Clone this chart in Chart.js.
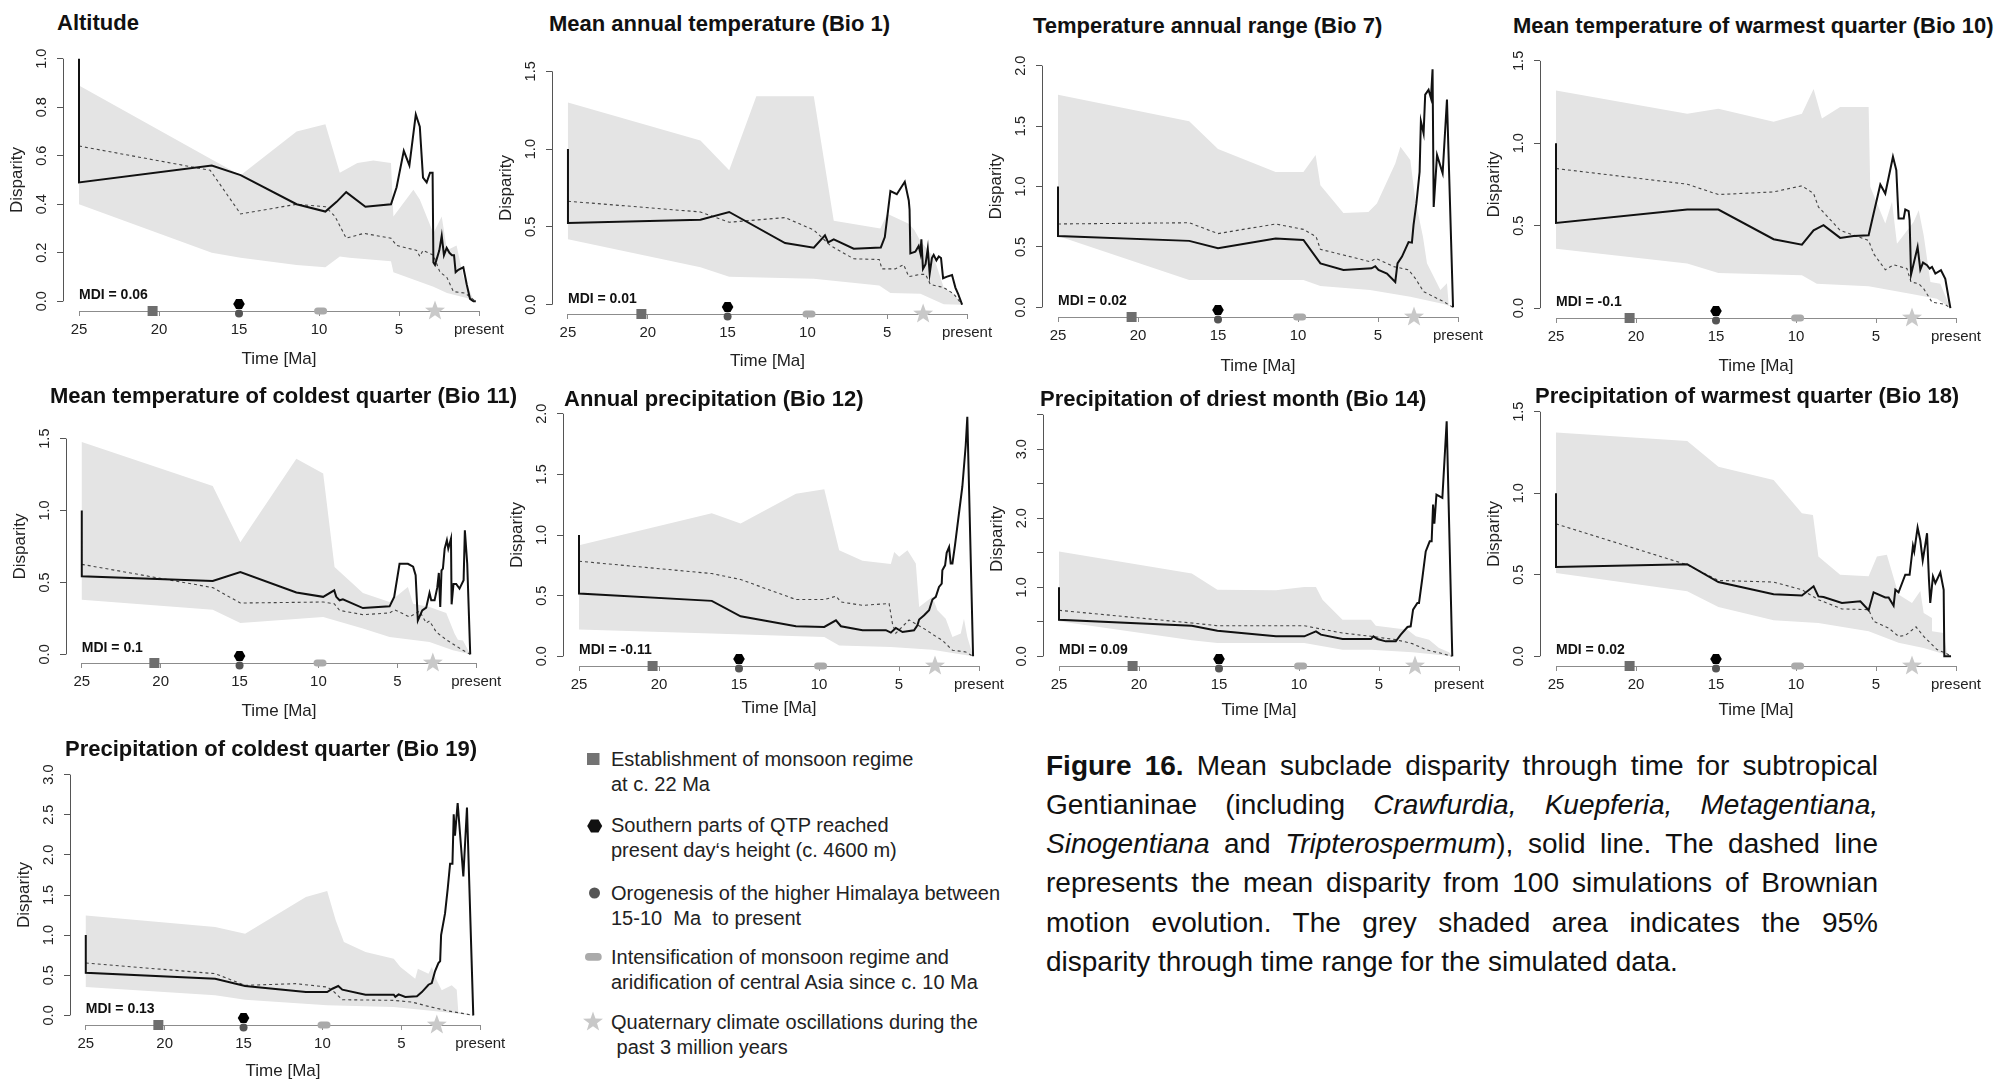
<!DOCTYPE html>
<html><head><meta charset="utf-8">
<script src="https://cdn.jsdelivr.net/npm/chart.js@4.4.1/dist/chart.umd.min.js"></script>
<style>
html,body{margin:0;padding:0;background:#fff;}
body{width:1995px;height:1083px;position:relative;overflow:hidden;font-family:'Liberation Sans',Arial,sans-serif;color:#111;}
.ptitle{position:absolute;font-weight:bold;font-size:22px;line-height:22px;white-space:nowrap;color:#111;z-index:2;}
canvas{position:absolute;z-index:1;}
.leg{position:absolute;left:611px;font-size:20px;line-height:25px;color:#222;white-space:nowrap;}
.cap{position:absolute;left:1046px;top:745.6px;width:832px;font-size:28px;line-height:39.3px;color:#111;}
.cap div{text-align:justify;text-align-last:justify;}
.cap div.last{text-align:left;text-align-last:left;}
</style></head><body>

<div class="ptitle" style="left:57px;top:12.1px">Altitude</div>
<div class="ptitle" style="left:549px;top:13px">Mean annual temperature (Bio 1)</div>
<div class="ptitle" style="left:1033px;top:14.6px">Temperature annual range (Bio 7)</div>
<div class="ptitle" style="left:1513px;top:14.6px">Mean temperature of warmest quarter (Bio 10)</div>
<div class="ptitle" style="left:50px;top:384.7px">Mean temperature of coldest quarter (Bio 11)</div>
<div class="ptitle" style="left:564px;top:388px">Annual precipitation (Bio 12)</div>
<div class="ptitle" style="left:1040px;top:388px">Precipitation of driest month (Bio 14)</div>
<div class="ptitle" style="left:1535px;top:384.7px">Precipitation of warmest quarter (Bio 18)</div>
<div class="ptitle" style="left:65px;top:738px">Precipitation of coldest quarter (Bio 19)</div>

<svg style="position:absolute;left:580px;top:745px" width="30" height="300">
  <rect x="7" y="8" width="12.5" height="12" fill="#737373"/>
  <polygon points="22.2,81 18.45,87.5 10.95,87.5 7.2,81 10.95,74.5 18.45,74.5" fill="#111"/>
  <circle cx="14.5" cy="148" r="5.5" fill="#555"/>
  <rect x="5" y="208" width="16.7" height="7.7" rx="3.8" fill="#aaa"/>
  <polygon points="13,266.5 15.47,273.6 22.99,273.76 17,278.3 19.17,285.49 13,281.2 6.83,285.49 9,278.3 3.01,273.76 10.53,273.6" fill="#c8c8c8"/>
</svg>
<div class="leg" style="top:747.3px">Establishment of monsoon regime<br>at c. 22 Ma</div>
<div class="leg" style="top:813.3px">Southern parts of QTP reached<br>present day‘s height (c. 4600 m)</div>
<div class="leg" style="top:880.6px">Orogenesis of the higher Himalaya between<br>15-10 &nbsp;Ma &nbsp;to present</div>
<div class="leg" style="top:944.6px">Intensification of monsoon regime and<br>aridification of central Asia since c. 10 Ma</div>
<div class="leg" style="top:1009.9px">Quaternary climate oscillations during the<br>&nbsp;past 3 million years</div>

<div class="cap">
<div><b>Figure 16.</b> Mean subclade disparity through time for subtropical</div>
<div>Gentianinae (including <i>Crawfurdia,</i> <i>Kuepferia,</i> <i>Metagentiana,</i></div>
<div><i>Sinogentiana</i> and <i>Tripterospermum</i>), solid line. The dashed line</div>
<div>represents the mean disparity from 100 simulations of Brownian</div>
<div>motion evolution. The grey shaded area indicates the 95%</div>
<div class="last">disparity through time range for the simulated data.</div>
</div>

<script>
// ---------- DATA ----------
const xTicks = [25, 20, 15, 10, 5, 0];
const eventAges = [20.4, 15, 15, 9.9, 2.75]; // monsoon, QTP, Himalaya, intensification, Quaternary
const mdiValues = ['0.06', '0.01', '0.02', '-0.1', '0.1', '-0.11', '0.09', '0.02', '0.13'];
const yTickSets = [
  [0, 0.2, 0.4, 0.6, 0.8, 1.0],
  [0, 0.5, 1.0, 1.5],
  [0, 0.5, 1.0, 1.5, 2.0],
  [0, 0.5, 1.0, 1.5],
  [0, 0.5, 1.0, 1.5],
  [0, 0.5, 1.0, 1.5, 2.0],
  [0, 0.5, 1.0, 1.5, 2.0, 2.5, 3.0, 3.5],
  [0, 0.5, 1.0, 1.5],
  [0, 0.5, 1.0, 1.5, 2.0, 2.5, 3.0]
];
const yLabelEvery = [0.2, 0.5, 0.5, 0.5, 0.5, 0.5, 1.0, 0.5, 0.5];

// Altitude
const altitudeObserved = [[25,1.0],[25,0.49],[16.7,0.56],[14.9,0.52],[11.4,0.40],[9.6,0.37],[8.9,0.41],[8.3,0.45],[7.1,0.39],[5.5,0.40],[5.15,0.47],[4.7,0.62],[4.35,0.56],[3.95,0.77],[3.7,0.72],[3.5,0.51],[3.27,0.49],[3.06,0.53],[2.9,0.53],[2.85,0.16],[2.75,0.15],[2.48,0.21],[2.33,0.27],[2.19,0.19],[2.02,0.22],[1.85,0.20],[1.69,0.19],[1.56,0.19],[1.46,0.12],[1.29,0.13],[0.98,0.14],[0.77,0.07],[0.56,0.01],[0.35,0],[0.2,0]];
const altitudeMean = [[25,0.64],[16.8,0.54],[14.9,0.36],[11.4,0.40],[9.6,0.39],[9.0,0.35],[8.3,0.26],[7.2,0.28],[5.5,0.26],[5.15,0.23],[3.9,0.21],[3.7,0.185],[3.5,0.21],[2.85,0.19],[2.44,0.12],[2.02,0.10],[1.6,0.04],[0.88,0.034],[0.35,0.007],[0.15,0]];
const altitudeUpper = [[25,0.89],[16.7,0.585],[14.9,0.52],[11.4,0.70],[9.6,0.73],[8.7,0.53],[7.6,0.57],[6.6,0.58],[5.5,0.57],[5.35,0.35],[4.1,0.46],[3.7,0.42],[2.85,0.28],[2.33,0.35],[2.0,0.21],[1.4,0.23],[0.98,0.10],[0.35,0.007],[0.15,0]];
const altitudeLower = [[25,0.40],[16.7,0.20],[14.9,0.18],[11.4,0.15],[9.6,0.14],[8.7,0.185],[8.1,0.18],[5.5,0.165],[5.35,0.12],[2.85,0.06],[2.0,0.034],[0.77,0.014],[0.15,0]];

// Bio 1
const bio1Observed = [[25,1.0],[25,0.525],[16.7,0.546],[14.9,0.596],[11.4,0.396],[9.6,0.366],[8.9,0.446],[8.7,0.40],[8.35,0.42],[7.1,0.36],[5.4,0.368],[5.15,0.435],[4.8,0.73],[4.4,0.71],[3.9,0.79],[3.65,0.67],[3.6,0.61],[3.55,0.33],[3.24,0.34],[3.03,0.377],[2.92,0.33],[2.86,0.42],[2.76,0.23],[2.6,0.26],[2.46,0.36],[2.34,0.2],[2.2,0.30],[2.09,0.32],[1.92,0.285],[1.77,0.31],[1.63,0.30],[1.5,0.17],[1.25,0.18],[0.94,0.19],[0.73,0.11],[0.56,0.07],[0.31,0]];
const bio1Mean = [[25,0.665],[16.7,0.596],[14.9,0.53],[11.4,0.56],[9.6,0.48],[8.56,0.38],[7.1,0.295],[5.5,0.29],[5.33,0.23],[4.5,0.23],[3.97,0.257],[3.65,0.18],[2.92,0.195],[2.6,0.195],[2.3,0.13],[1.46,0.11],[0.84,0.07],[0.31,0]];
const bio1Upper = [[25,1.30],[16.7,1.056],[14.9,0.864],[13.2,1.34],[9.6,1.34],[8.35,0.54],[5.43,0.49],[5.0,0.585],[3.65,0.52],[3.3,0.48],[2.92,0.41],[2.09,0.306],[1.46,0.11],[0.84,0.07],[0.31,0]];
const bio1Lower = [[25,0.42],[16.7,0.24],[14.9,0.18],[9.6,0.167],[5.5,0.124],[4.8,0.075],[2.92,0.07],[1.46,0.002],[0.31,0]];

// Bio 7
const bio7Observed = [[25,1.0],[25,0.59],[16.8,0.55],[15.0,0.49],[11.4,0.57],[9.66,0.557],[8.6,0.364],[7.16,0.31],[5.4,0.323],[5.17,0.34],[4.97,0.31],[4.44,0.28],[3.92,0.21],[3.78,0.364],[3.5,0.42],[3.09,0.54],[2.88,0.535],[2.78,0.68],[2.6,0.86],[2.4,1.12],[2.32,1.54],[2.15,1.44],[2.05,1.76],[1.84,1.80],[1.69,1.73],[1.59,1.97],[1.52,0.83],[1.31,1.26],[0.96,1.11],[0.69,1.72],[0.31,0]];
const bio7Mean = [[25,0.69],[16.8,0.70],[15,0.61],[11.4,0.69],[9.66,0.645],[8.87,0.585],[8.6,0.48],[7.16,0.433],[5.5,0.378],[5.13,0.405],[4.0,0.337],[3.09,0.31],[2.67,0.24],[2.15,0.13],[0.9,0.047],[0.31,0]];
const bio7Upper = [[25,1.76],[16.8,1.54],[15,1.31],[11.4,1.12],[9.66,1.12],[8.9,1.26],[8.6,1.01],[7.16,0.78],[5.6,0.79],[5.07,0.86],[3.92,1.19],[3.6,1.33],[2.98,1.22],[2.67,0.89],[2.19,0.585],[1.94,0.364],[1.1,0.143],[0.69,0.2],[0.58,0.02],[0.31,0]];
const bio7Lower = [[25,0.59],[16.8,0.226],[9.66,0.226],[8.6,0.177],[5.5,0.143],[2.98,0.088],[0.9,0.028],[0.31,0]];

// Bio 10
const bio10Observed = [[25,1.0],[25,0.517],[16.8,0.598],[14.85,0.598],[11.4,0.418],[9.63,0.385],[8.9,0.472],[8.28,0.503],[7.24,0.426],[6.4,0.438],[5.46,0.442],[5.15,0.574],[4.73,0.75],[4.42,0.695],[3.94,0.918],[3.73,0.837],[3.59,0.543],[3.27,0.543],[3.17,0.598],[2.96,0.588],[2.9,0.533],[2.81,0.203],[2.4,0.371],[2.23,0.233],[2.06,0.276],[1.81,0.26],[1.65,0.24],[1.5,0.25],[1.29,0.21],[0.94,0.23],[0.67,0.178],[0.35,0]];
const bio10Mean = [[25,0.847],[16.8,0.752],[14.85,0.689],[11.4,0.705],[9.63,0.742],[8.9,0.695],[8.6,0.614],[7.24,0.472],[5.46,0.41],[5.15,0.33],[4.42,0.233],[3.9,0.263],[3.07,0.24],[2.81,0.158],[2.33,0.148],[2.02,0.118],[1.5,0.036],[0.67,0.022],[0.35,0]];
const bio10Upper = [[25,1.32],[16.8,1.18],[14.85,1.21],[11.4,1.13],[9.63,1.18],[8.9,1.33],[8.38,1.15],[7.24,1.22],[5.46,1.22],[5.36,0.736],[4.42,0.513],[4.0,0.645],[3.69,0.39],[2.65,0.523],[2.33,0.594],[2.02,0.442],[1.6,0.158],[0.98,0.148],[0.35,0]];
const bio10Lower = [[25,0.36],[16.8,0.27],[14.85,0.213],[9.63,0.2],[8.7,0.148],[5.46,0.132],[2.86,0.087],[1.19,0.057],[0.35,0]];

// Bio 11
const bio11Observed = [[25,1.0],[25,0.543],[16.7,0.51],[14.95,0.573],[11.4,0.43],[9.7,0.40],[9.0,0.445],[8.87,0.40],[8.66,0.376],[8.45,0.383],[7.18,0.322],[5.49,0.334],[5.2,0.40],[4.86,0.63],[4.33,0.63],[4.0,0.61],[3.84,0.55],[3.7,0.236],[3.42,0.306],[3.17,0.325],[2.96,0.427],[2.85,0.376],[2.64,0.376],[2.47,0.464],[2.37,0.566],[2.28,0.33],[2.2,0.584],[2.11,0.596],[2.0,0.735],[1.86,0.793],[1.77,0.735],[1.6,0.805],[1.56,0.348],[1.44,0.49],[1.27,0.49],[1.06,0.457],[0.8,0.515],[0.72,0.862],[0.57,0.63],[0.38,0]];
const bio11Mean = [[25,0.626],[16.7,0.464],[14.95,0.357],[9.7,0.364],[9.0,0.352],[8.66,0.306],[7.18,0.276],[5.49,0.288],[5.17,0.31],[4.22,0.26],[3.59,0.30],[3.17,0.218],[2.96,0.232],[2.53,0.155],[1.9,0.102],[0.84,0.028],[0.38,0]];
const bio11Upper = [[25,1.477],[16.7,1.17],[14.95,0.78],[11.4,1.36],[9.7,1.257],[8.98,0.607],[7.18,0.427],[5.49,0.364],[4.86,0.422],[4.33,0.468],[4.0,0.352],[2.96,0.33],[1.9,0.288],[1.37,0.144],[1.16,0.102],[0.84,0.097],[0.38,0]];
const bio11Lower = [[25,0.38],[16.7,0.31],[14.95,0.218],[9.7,0.26],[7.18,0.18],[5.49,0.12],[2.96,0.086],[1.48,0.028],[0.38,0]];

// Bio 12
const bio12Observed = [[25,1.0],[25,0.517],[16.7,0.457],[14.9,0.33],[11.44,0.248],[9.67,0.242],[8.94,0.297],[8.63,0.248],[7.28,0.215],[5.82,0.215],[5.51,0.195],[5.2,0.234],[4.78,0.20],[4.06,0.215],[3.85,0.256],[3.74,0.303],[3.43,0.338],[3.12,0.38],[2.91,0.468],[2.7,0.49],[2.5,0.572],[2.33,0.60],[2.29,0.71],[2.12,0.75],[2.02,0.853],[1.87,0.90],[1.77,0.765],[1.66,0.765],[1.5,0.916],[1.25,1.18],[1.04,1.40],[0.83,1.74],[0.73,1.975],[0.37,0]];
const bio12Mean = [[25,0.784],[16.7,0.682],[14.9,0.633],[11.44,0.468],[9.67,0.468],[8.94,0.495],[8.63,0.448],[7.28,0.42],[5.62,0.435],[5.41,0.27],[5.2,0.19],[4.37,0.3],[3.33,0.22],[2.81,0.173],[2.29,0.132],[1.66,0.05],[0.83,0.036],[0.37,0]];
const bio12Upper = [[25,0.916],[16.7,1.18],[14.9,1.095],[11.44,1.34],[9.67,1.378],[8.74,0.875],[7.28,0.787],[5.51,0.76],[5.3,0.86],[4.99,0.82],[4.47,0.875],[3.95,0.765],[3.74,0.407],[2.91,0.49],[2.6,0.38],[2.08,0.31],[1.66,0.16],[1.14,0.187],[0.94,0.31],[0.73,0.16],[0.37,0]];
const bio12Lower = [[25,0.22],[16.7,0.187],[9.67,0.16],[8.74,0.09],[5.51,0.077],[2.91,0.055],[1.66,0.028],[0.37,0]];

// Bio 14
const bio14Observed = [[25,1.0],[25,0.53],[16.7,0.444],[15.1,0.372],[11.44,0.29],[9.67,0.29],[8.94,0.362],[8.63,0.314],[7.28,0.25],[5.5,0.25],[5.35,0.29],[5.1,0.25],[4.58,0.217],[3.95,0.217],[3.64,0.314],[3.22,0.425],[3.02,0.435],[2.87,0.676],[2.6,0.773],[2.5,0.773],[2.29,1.135],[2.08,1.52],[1.83,1.667],[1.71,1.667],[1.62,2.198],[1.54,1.923],[1.41,2.343],[1.04,2.295],[0.77,3.406],[0.42,0]];
const bio14Mean = [[25,0.667],[16.7,0.483],[15.1,0.444],[9.67,0.444],[8.63,0.396],[7.28,0.338],[5.5,0.29],[3.95,0.242],[2.91,0.184],[2.08,0.097],[1.04,0.039],[0.42,0]];
const bio14Upper = [[25,1.52],[16.7,1.2],[15.1,0.966],[11.44,0.957],[9.67,1.005],[8.94,1.005],[8.53,0.82],[7.28,0.531],[5.5,0.531],[5.2,0.444],[3.22,0.386],[2.7,0.29],[1.87,0.242],[1.25,0.12],[0.62,0.058],[0.42,0]];
const bio14Lower = [[25,0.507],[16.7,0.232],[15.1,0.193],[9.67,0.193],[7.28,0.097],[5.5,0.097],[2.91,0.058],[0.42,0]];

// Bio 18
const bio18Observed = [[25,1.0],[25,0.547],[16.8,0.565],[14.85,0.455],[11.4,0.38],[9.63,0.373],[8.9,0.429],[8.6,0.367],[8.28,0.363],[7.13,0.327],[5.98,0.337],[5.46,0.282],[5.15,0.392],[4.42,0.361],[4.21,0.361],[3.9,0.31],[3.79,0.408],[3.59,0.392],[3.17,0.50],[2.9,0.50],[2.69,0.678],[2.61,0.643],[2.4,0.79],[2.23,0.71],[2.08,0.588],[1.92,0.684],[1.81,0.755],[1.69,0.469],[1.61,0.327],[1.44,0.49],[1.29,0.449],[0.98,0.514],[0.77,0.408],[0.73,0],[0.31,0]];
const bio18Mean = [[25,0.812],[16.8,0.561],[14.85,0.465],[11.4,0.455],[9.63,0.408],[8.6,0.347],[7.13,0.29],[5.46,0.286],[5.15,0.214],[4.21,0.173],[3.59,0.122],[3.17,0.127],[2.5,0.18],[2.02,0.122],[1.19,0.041],[0.67,0.02],[0.31,0]];
const bio18Upper = [[25,1.373],[16.8,1.32],[14.85,1.163],[11.4,1.082],[9.63,0.878],[8.94,0.867],[8.6,0.612],[7.24,0.50],[5.46,0.49],[4.94,0.612],[4.32,0.622],[3.59,0.378],[2.75,0.327],[2.23,0.40],[2.02,0.265],[1.5,0.235],[1.5,0.153],[0.77,0.143],[0.56,0.016],[0.31,0]];
const bio18Lower = [[25,0.51],[16.8,0.398],[14.85,0.302],[11.4,0.22],[8.6,0.204],[5.46,0.153],[3.59,0.082],[2.02,0.051],[0.31,0]];

// Bio 19
const bio19Observed = [[25,1.0],[25,0.532],[16.8,0.457],[14.9,0.366],[11.05,0.29],[9.7,0.29],[9.37,0.332],[9.0,0.366],[8.74,0.32],[7.27,0.258],[5.48,0.258],[5.38,0.23],[5.17,0.262],[4.75,0.23],[4.01,0.237],[3.7,0.29],[3.28,0.382],[3.07,0.403],[2.86,0.553],[2.65,0.652],[2.54,0.677],[2.48,1.0],[2.23,1.27],[2.06,1.58],[1.91,1.89],[1.76,1.89],[1.68,2.505],[1.6,2.24],[1.43,2.646],[1.07,1.73],[0.84,2.59],[0.44,0]];
const bio19Mean = [[25,0.652],[16.8,0.52],[14.9,0.374],[11.7,0.395],[9.7,0.353],[9.37,0.312],[8.74,0.195],[5.48,0.187],[4.33,0.166],[3.28,0.112],[2.02,0.054],[0.97,0.02],[0.44,0]];
const bio19Upper = [[25,1.246],[16.8,1.1],[14.9,1.018],[11.05,1.475],[9.7,1.55],[9.16,1.184],[8.64,0.914],[7.27,0.79],[5.48,0.706],[5.06,0.602],[4.12,0.457],[3.95,0.58],[3.28,0.52],[3.07,0.602],[2.75,0.436],[2.44,0.312],[1.81,0.374],[1.49,0.32],[1.39,0.042],[0.44,0]];
const bio19Lower = [[25,0.353],[16.8,0.25],[14.9,0.195],[9.7,0.125],[5.48,0.104],[3.28,0.062],[0.44,0]];

const series = [
  {obs: altitudeObserved, mean: altitudeMean, upper: altitudeUpper, lower: altitudeLower},
  {obs: bio1Observed, mean: bio1Mean, upper: bio1Upper, lower: bio1Lower},
  {obs: bio7Observed, mean: bio7Mean, upper: bio7Upper, lower: bio7Lower},
  {obs: bio10Observed, mean: bio10Mean, upper: bio10Upper, lower: bio10Lower},
  {obs: bio11Observed, mean: bio11Mean, upper: bio11Upper, lower: bio11Lower},
  {obs: bio12Observed, mean: bio12Mean, upper: bio12Upper, lower: bio12Lower},
  {obs: bio14Observed, mean: bio14Mean, upper: bio14Upper, lower: bio14Lower},
  {obs: bio18Observed, mean: bio18Mean, upper: bio18Upper, lower: bio18Lower},
  {obs: bio19Observed, mean: bio19Mean, upper: bio19Upper, lower: bio19Lower}
];

// ---------- LAYOUT (plot regions in page pixels, axis ranges) ----------
const boxes = [
  {L:63, R:495, T:49, B:311, ymin:-0.04, ymax:1.04, xt:48.6},
  {L:552, R:983, T:62, B:314, ymin:-0.06, ymax:1.56, xt:48},
  {L:1042, R:1474, T:56, B:317, ymin:-0.08, ymax:2.08, xt:50},
  {L:1540, R:1972, T:51, B:318, ymin:-0.06, ymax:1.56, xt:49},
  {L:66, R:492, T:430, B:663, ymin:-0.06, ymax:1.56, xt:49},
  {L:563, R:995, T:404, B:666, ymin:-0.08, ymax:2.08, xt:43},
  {L:1043, R:1475, T:412, B:666, ymin:-0.14, ymax:3.54, xt:45},
  {L:1540, R:1972, T:402, B:666, ymin:-0.06, ymax:1.56, xt:45},
  {L:70, R:496, T:765, B:1025, ymin:-0.12, ymax:3.12, xt:47}
];
const FONT = "'Liberation Sans', Arial, sans-serif";

function toXY(arr) { return arr.map(p => ({x: p[0], y: p[1]})); }

function drawStar(ctx, cx, cy, ro, ri) {
  ctx.beginPath();
  for (let k = 0; k < 10; k++) {
    const r = k % 2 === 0 ? ro : ri;
    const a = k * Math.PI / 5;
    const px = cx + r * Math.sin(a), py = cy - r * Math.cos(a);
    if (k === 0) ctx.moveTo(px, py); else ctx.lineTo(px, py);
  }
  ctx.closePath(); ctx.fill();
}
function drawHex(ctx, cx, cy, r) {
  ctx.beginPath();
  for (let k = 0; k < 6; k++) {
    const a = k * Math.PI / 3;
    const px = cx + r * Math.cos(a), py = cy + r * Math.sin(a);
    if (k === 0) ctx.moveTo(px, py); else ctx.lineTo(px, py);
  }
  ctx.closePath(); ctx.fill();
}

function rPlugin(i) {
  return {
    id: 'rstyle' + i,
    afterDraw(chart) {
      const {ctx, chartArea: ca, scales: {x, y}} = chart;
      const yt = yTickSets[i];
      ctx.save();
      ctx.lineWidth = 1;
      const ax = Math.round(ca.left) + 0.5;
      ctx.strokeStyle = '#555';
      ctx.beginPath();
      ctx.moveTo(ax, y.getPixelForValue(yt[0]));
      ctx.lineTo(ax, y.getPixelForValue(yt[yt.length - 1]));
      ctx.stroke();
      const ay = Math.round(ca.bottom) + 0.5;
      ctx.strokeStyle = '#8c8c8c';
      ctx.beginPath();
      ctx.moveTo(x.getPixelForValue(xTicks[0]), ay);
      ctx.lineTo(x.getPixelForValue(xTicks[xTicks.length - 1]), ay);
      ctx.stroke();
      // event markers on the time axis
      const by = ca.bottom;
      let px = x.getPixelForValue(eventAges[0]);
      ctx.fillStyle = '#6e6e6e'; ctx.fillRect(px - 5, by - 5, 10, 10);
      px = x.getPixelForValue(eventAges[2]);
      ctx.fillStyle = '#555'; ctx.beginPath(); ctx.arc(px, by + 2.5, 4, 0, Math.PI * 2); ctx.fill();
      px = x.getPixelForValue(eventAges[1]);
      ctx.fillStyle = '#000'; drawHex(ctx, px, by - 7, 5.8);
      px = x.getPixelForValue(eventAges[3]);
      ctx.fillStyle = '#aaa'; ctx.beginPath(); ctx.roundRect(px - 6.5, by - 3.5, 13, 7, 3.5); ctx.fill();
      px = x.getPixelForValue(eventAges[4]);
      ctx.fillStyle = '#c9c9c9'; drawStar(ctx, px, by, 10.5, 4.3);
      // MDI label
      ctx.fillStyle = '#111';
      ctx.font = 'bold 14px ' + FONT;
      ctx.textBaseline = 'middle'; ctx.textAlign = 'left';
      ctx.fillText('MDI = ' + mdiValues[i], x.getPixelForValue(25), y.getPixelForValue(0) - 6);
      ctx.restore();
    }
  };
}

function makeChart(i) {
  const b = boxes[i];
  const WY = 56, HX = Math.round(b.xt + 10.2), PL = 2, PT = 12, PR = 24, PB = 2;
  const w = (b.R - b.L) + WY + PL + PR, h = (b.B - b.T) + PT + HX + PB;
  const cv = document.createElement('canvas');
  cv.width = w; cv.height = h;
  cv.style.left = (b.L - WY - PL) + 'px'; cv.style.top = (b.T - PT) + 'px';
  cv.style.width = w + 'px'; cv.style.height = h + 'px';
  document.body.appendChild(cv);
  const s = series[i];
  const band = s.upper.concat(s.lower.slice().reverse());
  const step = yLabelEvery[i];
  new Chart(cv, {
    type: 'line',
    data: {datasets: [
      {label: 'Observed disparity', data: toXY(s.obs), borderColor: '#111', borderWidth: 2, pointRadius: 0, fill: false, tension: 0},
      {label: 'Mean simulated disparity', data: toXY(s.mean), borderColor: '#444', borderWidth: 1.1, borderDash: [3, 3], pointRadius: 0, fill: false, tension: 0},
      {label: '95% range', data: toXY(band), borderWidth: 0, borderColor: 'rgba(0,0,0,0)', backgroundColor: '#e4e4e4', pointRadius: 0, fill: 'shape', tension: 0}
    ]},
    options: {
      responsive: false, animation: false, devicePixelRatio: 1,
      layout: {padding: {left: PL, top: PT, right: PR, bottom: PB}},
      plugins: {legend: {display: false}, tooltip: {enabled: false}},
      scales: {
        x: {
          type: 'linear', reverse: true, min: -1, max: 26, bounds: 'data',
          afterBuildTicks: sc => { sc.ticks = xTicks.map(v => ({value: v})); },
          afterFit: sc => { sc.height = HX; sc.paddingLeft = 0; sc.paddingRight = 0; },
          grid: {display: true, drawOnChartArea: false, drawTicks: true, tickLength: 5, color: '#8c8c8c', lineWidth: 1},
          border: {display: false},
          ticks: {autoSkip: false, maxRotation: 0, minRotation: 0, padding: 5, color: '#222',
                  font: {family: FONT, size: 15}, callback: v => v === 0 ? 'present' : String(v)},
          title: {display: true, text: 'Time [Ma]', color: '#222', font: {family: FONT, size: 17}, padding: 0}
        },
        y: {
          type: 'linear', min: b.ymin, max: b.ymax, bounds: 'data',
          afterBuildTicks: sc => { sc.ticks = yTickSets[i].map(v => ({value: v})); },
          afterFit: sc => { sc.width = WY; sc.paddingTop = 0; sc.paddingBottom = 0; },
          grid: {display: true, drawOnChartArea: false, drawTicks: true, tickLength: 6, color: '#555', lineWidth: 1},
          border: {display: false},
          ticks: {autoSkip: false, minRotation: 90, maxRotation: 90, crossAlign: 'center', padding: 4.8, color: '#222',
                  font: {family: FONT, size: 14.5},
                  callback: v => Math.abs(v / step - Math.round(v / step)) < 1e-6 ? v.toFixed(1) : ''},
          title: {display: true, text: 'Disparity', color: '#222', font: {family: FONT, size: 17}, padding: 0}
        }
      }
    },
    plugins: [rPlugin(i)]
  });
}

for (let i = 0; i < boxes.length; i++) makeChart(i);
</script>
</body></html>
